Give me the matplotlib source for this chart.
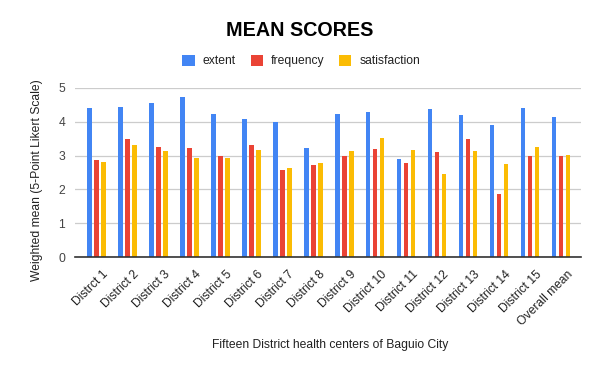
import matplotlib
matplotlib.use("Agg")
import matplotlib.pyplot as plt
import matplotlib.transforms as mtransforms
import numpy as np
from matplotlib.patches import Patch

categories = ["Distrct 1", "District 2", "District 3", "District 4", "District 5",
              "District 6", "District 7", "District 8", "District 9", "District 10",
              "District 11", "District 12", "District 13", "District 14", "District 15",
              "Overall mean"]
extent = [4.40, 4.44, 4.56, 4.73, 4.23, 4.08, 3.99, 3.22, 4.23, 4.29,
          2.90, 4.38, 4.20, 3.91, 4.41, 4.14]
frequency = [2.86, 3.48, 3.25, 3.22, 2.99, 3.31, 2.57, 2.72, 2.99, 3.20,
             2.78, 3.11, 3.49, 1.86, 2.99, 2.99]
satisfaction = [2.81, 3.31, 3.14, 2.93, 2.93, 3.17, 2.63, 2.78, 3.14, 3.52,
                3.17, 2.46, 3.14, 2.75, 3.25, 3.02]
series_names = ["extent", "frequency", "satisfaction"]
colors = ["#4285F4", "#EA4335", "#FBBC04"]

plt.rcParams['font.family'] = ['Liberation Sans', 'DejaVu Sans']

fig = plt.figure(figsize=(6, 3.71), dpi=100)
ax = fig.add_axes([75/600, 1-257/371, (581-75)/600, (257-88)/371])

x = np.arange(len(categories))
w = 0.15
pitch = 0.226
for i, (vals, c) in enumerate(zip([extent, frequency, satisfaction], colors)):
    ax.bar(x + (i-1)*pitch, vals, width=w, color=c, zorder=3)

ax.set_ylim(0, 5)
ax.set_xlim(-0.69, 15.645)
ax.set_yticks([0, 1, 2, 3, 4, 5])
ax.yaxis.grid(True, color="#cccccc", linewidth=0.9, zorder=0)
ax.tick_params(axis='y', length=0, labelsize=8.7, labelcolor="#444444", pad=7)
ax.tick_params(axis='x', length=0, labelsize=8.7, labelcolor="#222222", pad=3)
ax.set_xticks(x)
ax.set_xticklabels(categories, rotation=45, ha='right', rotation_mode='anchor')
offset = mtransforms.ScaledTranslation(6/100, -7/100, fig.dpi_scale_trans)
for lab in ax.get_xticklabels():
    lab.set_transform(lab.get_transform() + offset)
for s in ['top', 'right', 'left']:
    ax.spines[s].set_visible(False)
ax.spines['bottom'].set_color("#333333")
ax.spines['bottom'].set_linewidth(1.2)
ax.spines['bottom'].set_zorder(4)

fig.text(37/600, 1-180/371, "Weighted mean (5-Point Likert Scale)", rotation=90,
         ha='center', va='center', fontsize=8.7, color="#222222")
fig.text(330/600, 1-345/371, "Fifteen District health centers of Baguio City",
         ha='center', va='center', fontsize=8.7, color="#222222")
fig.text(0.5, 1-31/371, "MEAN SCORES", ha='center', va='center',
         fontsize=14.2, fontweight='bold', color="#000000")

handles = [Patch(facecolor=c, edgecolor='none') for c in colors]
fig.legend(handles, series_names, loc='center', bbox_to_anchor=(0.502, 1-61/371),
           ncol=3, frameon=False, fontsize=8.7, handlelength=1.0, handleheight=1.0,
           columnspacing=1.25, handletextpad=0.65, labelcolor="#222222")

fig.savefig("out.png", dpi=100, facecolor="white")
